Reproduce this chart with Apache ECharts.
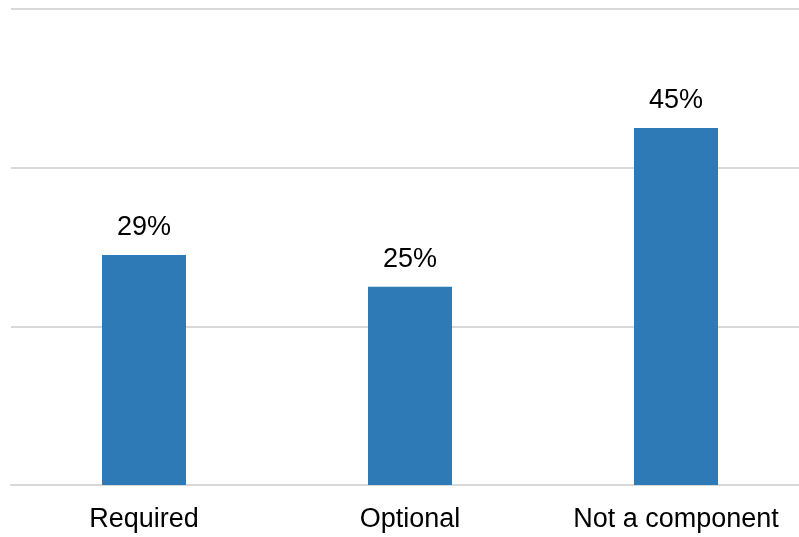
<!DOCTYPE html>
<html>
<head>
<meta charset="utf-8">
<script src="https://cdn.jsdelivr.net/npm/echarts@6/dist/echarts.min.js"></script>
<style>
  html, body { margin: 0; padding: 0; background: #fff; }
  #chart { width: 799px; height: 537px; }
</style>
</head>
<body>
<div id="chart"></div>
<script>
// Share of respondents by component status
const categories = ['Required', 'Optional', 'Not a component'];
const shares = [29, 25, 45];

const chart = echarts.init(document.getElementById('chart'), null, { renderer: 'canvas' });
chart.setOption({
  animation: false,
  // plot area runs slightly past the right edge; labels are not pulled inside the canvas
  grid: { left: 11, width: 798, top: 9, bottom: 52, containLabel: false, outerBoundsMode: 'none' },
  xAxis: {
    type: 'category',
    data: categories,
    axisLine: { lineStyle: { color: '#d9d9d9', width: 2 } },
    axisTick: { show: false },
    axisLabel: {
      interval: 0,
      hideOverlap: false,
      color: '#000',
      fontFamily: 'Liberation Sans, Arial, sans-serif',
      fontSize: 27,
      margin: 21
    }
  },
  yAxis: {
    type: 'value',
    min: 0,
    max: 60,
    interval: 20,
    axisLine: { show: false },
    axisTick: { show: false },
    axisLabel: { show: false },
    splitLine: { lineStyle: { color: '#d9d9d9', width: 2 } }
  },
  series: [{
    type: 'bar',
    data: shares,
    barWidth: 84,
    itemStyle: { color: '#2E7AB7' },
    label: {
      show: true,
      position: 'top',
      distance: 14,
      color: '#000',
      fontFamily: 'Liberation Sans, Arial, sans-serif',
      fontSize: 27,
      formatter: p => p.value + '%'
    }
  }]
});
</script>
</body>
</html>
